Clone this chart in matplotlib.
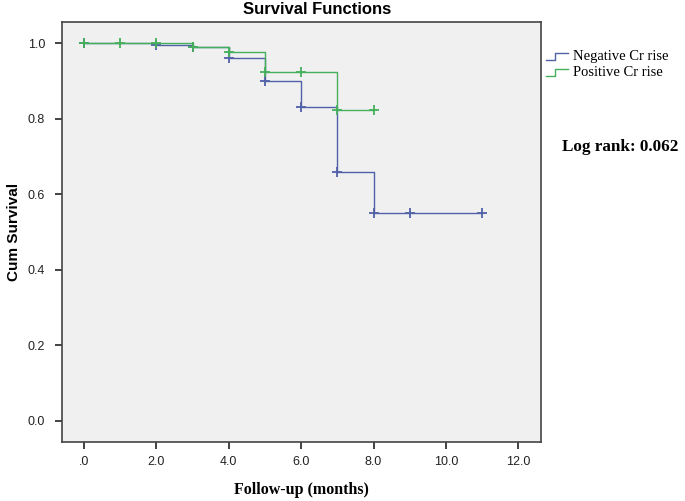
import numpy as np
import matplotlib.pyplot as plt
from matplotlib.lines import Line2D

# curvas Kaplan-Meier
neg_t = [0, 2, 3, 4, 5, 6, 7, 8]
neg_s = [1.0, 0.996, 0.99, 0.961, 0.900, 0.831, 0.658, 0.549]
neg_fin = 11
neg_cens = [0, 2, 3, 4, 5, 6, 7, 8, 9, 11]

pos_t = [0, 3, 4, 5, 7]
pos_s = [1.0, 0.99, 0.977, 0.925, 0.823]
pos_fin = 8
pos_cens = [0, 1, 2, 3, 4, 5, 6, 7, 8]

x_ticks = [0, 2, 4, 6, 8, 10, 12]
x_labels = ['.0', '2.0', '4.0', '6.0', '8.0', '10.0', '12.0']
y_ticks = [0, 0.2, 0.4, 0.6, 0.8, 1.0]
y_labels = ['0.0', '0.2', '0.4', '0.6', '0.8', '1.0']

azul = '#5161a8'
verde = '#45b05c'

fig = plt.figure(figsize=(6.85, 5.01), dpi=100)
ax = fig.add_axes([0.090, 0.118, 0.700, 0.838])
ax.set_facecolor('#f0f0f0')


def curva(t, s, fin, cens, color):
    xs = list(t) + [fin]
    ys = list(s) + [s[-1]]
    ax.step(xs, ys, where='post', color=color, lw=1.0)
    idx = np.searchsorted(t, cens, side='right') - 1
    ax.plot(cens, np.array(s)[idx], '+', color=color, ms=7, mew=1.3)


curva(neg_t, neg_s, neg_fin, neg_cens, azul)
curva(pos_t, pos_s, pos_fin, pos_cens, verde)

ax.set_xlim(-0.62, 12.63)
ax.set_ylim(-0.056, 1.056)
ax.set_xticks(x_ticks)
ax.set_xticklabels(x_labels)
ax.set_yticks(y_ticks)
ax.set_yticklabels(y_labels)
ax.tick_params(direction='out', length=5, width=1.2, labelsize=9, colors='#222222')
ax.tick_params(axis='x', pad=5)
ax.tick_params(axis='y', pad=7)
for lab in ax.get_xticklabels() + ax.get_yticklabels():
    lab.set_family('Liberation Sans')
for sp in ax.spines.values():
    sp.set_color('#444444')
    sp.set_linewidth(1.2)

fig.text(0.463, 0.982, 'Survival Functions', fontsize=12, fontweight='bold', family='Liberation Sans',
         ha='center', va='center')
ax.set_ylabel('Cum Survival', fontsize=11, fontweight='bold', family='Liberation Sans', labelpad=5)
ax.set_xlabel('Follow-up (months)', fontsize=11.5, fontweight='bold', family='Liberation Serif', labelpad=10)

# leyenda con simbolo escalonado
for yy, col, txt in [(0.887, azul, 'Negative Cr rise'), (0.855, verde, 'Positive Cr rise')]:
    fig.add_artist(Line2D([0.797, 0.810, 0.810, 0.829], [yy - 0.006, yy - 0.006, yy + 0.007, yy + 0.007],
                          transform=fig.transFigure, color=col, lw=1.0))
    fig.text(0.836, yy, txt, fontsize=10.5, family='Liberation Serif', va='center', ha='left')

fig.text(0.820, 0.706, 'Log rank: 0.062', fontsize=12.3, fontweight='bold', family='Liberation Serif',
         va='center', ha='left')

fig.savefig('out.png', dpi=100)
